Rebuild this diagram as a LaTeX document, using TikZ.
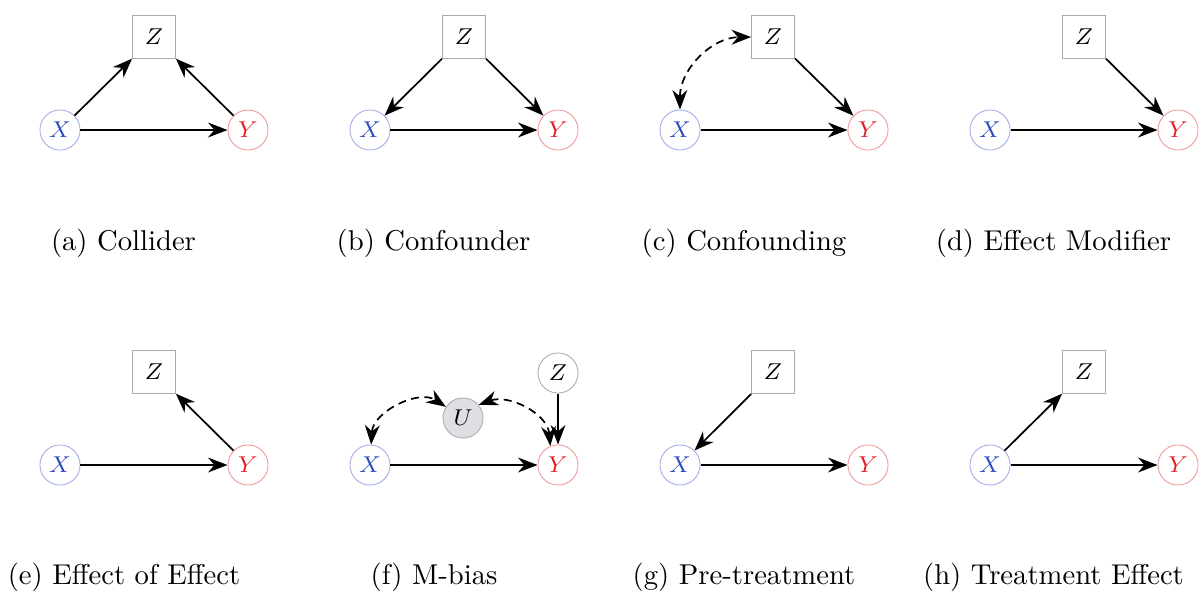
\documentclass[tikz,border=0pt]{standalone}
\usetikzlibrary{arrows.meta}
\definecolor{xtext}{RGB}{45,75,190}
\definecolor{xline}{RGB}{160,170,230}
\definecolor{ytext}{RGB}{225,30,40}
\definecolor{yline}{RGB}{240,150,150}
\definecolor{boxline}{RGB}{170,170,170}
\definecolor{ufill}{RGB}{222,222,228}
\tikzset{
  every node/.style={font=\fontsize{8.3}{10}\selectfont},
  xnode/.style={circle,draw=xline,line width=0.3pt,minimum size=14pt,inner sep=0pt,text=xtext},
  ynode/.style={circle,draw=yline,line width=0.3pt,minimum size=14pt,inner sep=0pt,text=ytext},
  zbox/.style={rectangle,draw=boxline,line width=0.3pt,minimum size=15pt,inner sep=0pt},
  zcirc/.style={circle,draw=boxline,line width=0.3pt,minimum size=14pt,inner sep=0pt},
  unode/.style={circle,draw=boxline,fill=ufill,line width=0.3pt,minimum size=14pt,inner sep=0pt},
  arr/.style={-{Stealth[length=6.8pt,width=5.2pt]},line width=0.6pt},
  darr/.style={{Stealth[length=6.8pt,width=5.2pt]}-{Stealth[length=6.8pt,width=5.2pt]},line width=0.6pt,dash pattern=on 2.8pt off 1.9pt},
  captxt/.style={font=\normalsize}
}
\begin{document}
\begin{tikzpicture}[x=0.349pt,y=-0.349pt]
\useasboundingbox (0,0) rectangle (1200,591);
% (a) Collider
\node[xnode] (ax) at (60,130) {$X$};
\node[ynode] (ay) at (248,130) {$Y$};
\node[zbox] (az) at (154,37) {$Z$};
\draw[arr] (ax) -- (ay);
\draw[arr] (ax) -- (az);
\draw[arr] (ay) -- (az);
\node[captxt] (acap) at (123.5,243) {(a) Collider};
% (b) Confounder
\node[xnode] (bx) at (370,130) {$X$};
\node[ynode] (by) at (558,130) {$Y$};
\node[zbox] (bz) at (464,37) {$Z$};
\draw[arr] (bx) -- (by);
\draw[arr] (bz) -- (bx);
\draw[arr] (bz) -- (by);
\node[captxt] (bcap) at (433.5,243) {(b) Confounder};
% (c) Confounding
\node[xnode] (cx) at (680,130) {$X$};
\node[ynode] (cy) at (868,130) {$Y$};
\node[zbox] (cz) at (773,37) {$Z$};
\draw[arr] (cx) -- (cy);
\draw[arr] (cz) -- (cy);
\draw[darr] (cx) to[bend left=45] (cz);
\node[captxt] (ccap) at (744,243) {(c) Confounding};
% (d) Effect Modifier
\node[xnode] (dx) at (990,130) {$X$};
\node[ynode] (dy) at (1178,130) {$Y$};
\node[zbox] (dz) at (1084,37) {$Z$};
\draw[arr] (dx) -- (dy);
\draw[arr] (dz) -- (dy);
\node[captxt] (dcap) at (1053.5,243) {(d) Effect Modifier};
% (e) Effect of Effect
\node[xnode] (ex) at (60,465) {$X$};
\node[ynode] (ey) at (248,465) {$Y$};
\node[zbox] (ez) at (154,372) {$Z$};
\draw[arr] (ex) -- (ey);
\draw[arr] (ey) -- (ez);
\node[captxt] (ecap) at (124,577) {(e) Effect of Effect};
% (f) M-bias
\node[xnode] (fx) at (370,465) {$X$};
\node[ynode] (fy) at (558,465) {$Y$};
\node[zcirc] (fz) at (558,373) {$Z$};
\node[unode] (fu) at (463,418) {$U$};
\draw[arr] (fx) -- (fy);
\draw[arr] (fz) -- (fy);
\draw[darr] (fx) to[bend left=60] (fu);
\draw[darr] (fu.40) to[out=20,in=95] (fy.112);
\node[captxt] (fcap) at (434,577) {(f) M-bias};
% (g) Pre-treatment
\node[xnode] (gx) at (680,465) {$X$};
\node[ynode] (gy) at (868,465) {$Y$};
\node[zbox] (gz) at (773,372) {$Z$};
\draw[arr] (gx) -- (gy);
\draw[arr] (gz) -- (gx);
\node[captxt] (gcap) at (744,577) {(g) Pre-treatment};
% (h) Treatment Effect
\node[xnode] (hx) at (990,465) {$X$};
\node[ynode] (hy) at (1178,465) {$Y$};
\node[zbox] (hz) at (1084,372) {$Z$};
\draw[arr] (hx) -- (hy);
\draw[arr] (hx) -- (hz);
\node[captxt] (hcap) at (1053.5,577) {(h) Treatment Effect};
\end{tikzpicture}
\end{document}
